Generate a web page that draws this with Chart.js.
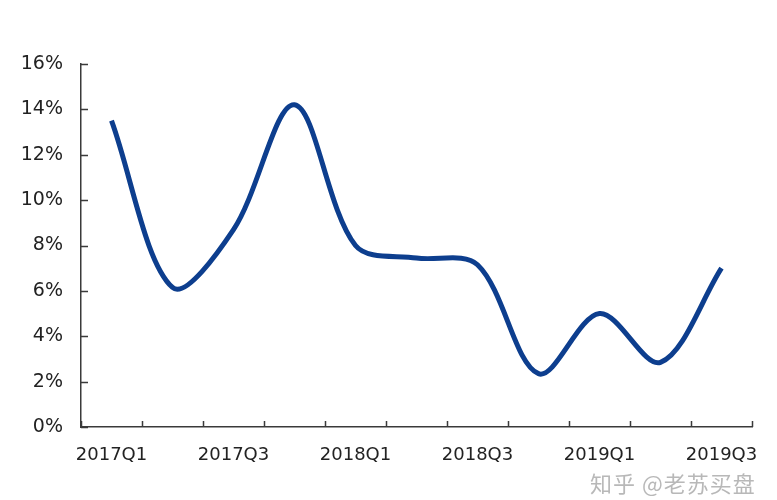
<!DOCTYPE html>
<html>
<head>
<meta charset="utf-8">
<script src="https://cdn.jsdelivr.net/npm/chart.js@4"></script>
<style>
  html, body { margin:0; padding:0; background:#fff; }
  #wrap { position:relative; width:777px; height:500px; }
  #mark {
    position:absolute; left:590px; top:466px;
    font-family:"Noto Sans CJK SC", sans-serif; font-size:22px;
    color:rgba(160,160,160,.75); letter-spacing:1px; white-space:nowrap;
  }
</style>
</head>
<body>
<div id="wrap">
  <canvas id="c" width="777" height="500"></canvas>
  <div id="mark">知乎 @老苏买盘</div>
</div>
<script>
const quarters = ["2017Q1","2017Q2","2017Q3","2017Q4","2018Q1","2018Q2","2018Q3","2018Q4","2019Q1","2019Q2","2019Q3"];
const growth = [13.5, 6.15, 8.7, 14.2, 8.0, 7.45, 7.15, 2.35, 5.0, 2.85, 7.0];
const yTicks = [0, 2, 4, 6, 8, 10, 12, 14, 16];

const TEXT = "#222";
const AXIS = "#3a3a3a";
const FAMILY = "'DejaVu Sans', Verdana, sans-serif";

// inward tick marks like the original
const innerTicks = {
  id:"innerTicks",
  afterDraw(chart){
    const {ctx, scales:{x, y}} = chart;
    ctx.save();
    ctx.strokeStyle = AXIS;
    ctx.lineWidth = 1.5;
    ctx.beginPath();
    for (let i = 0; i <= quarters.length; i++) {
      const px = Math.round(x.getPixelForValue(i - 0.5)) + 0.5;
      ctx.moveTo(px, y.bottom);
      ctx.lineTo(px, y.bottom - 6);
    }
    y.ticks.forEach(t => {
      const py = Math.round(y.getPixelForValue(t.value)) + 0.5;
      ctx.moveTo(x.left, py);
      ctx.lineTo(x.left + 7, py);
    });
    ctx.stroke();
    ctx.restore();
  }
};

new Chart(document.getElementById("c"), {
  type:"line",
  data:{
    labels: quarters,
    datasets:[{
      data: growth,
      borderColor:"#0d3e8e",
      borderWidth:5,
      pointRadius:0,
      tension:0.33,
      fill:false
    }]
  },
  options:{
    responsive:false,
    animation:false,
    layout:{ padding:{ top:64, right:25, left:0, bottom:0 } },
    plugins:{ legend:{ display:false }, tooltip:{ enabled:false } },
    scales:{
      x:{
        offset:true,
        grid:{ display:false },
        border:{ display:true, color:AXIS, width:1.5 },
        ticks:{
          color:TEXT, font:{ family:FAMILY, size:18 }, autoSkip:false, maxRotation:0, padding:10,
          callback:(v, i) => i % 2 === 0 ? quarters[i] : ""
        },
        afterFit:(s) => { s.height = 73; }
      },
      y:{
        min:0, max:16,
        grid:{ display:false },
        border:{ display:true, color:AXIS, width:1.5 },
        afterBuildTicks:(s) => { s.ticks = yTicks.map(v => ({ value:v })); },
        ticks:{ color:TEXT, font:{ family:FAMILY, size:19 }, padding:10, callback:(v) => v + "%" },
        afterFit:(s) => { s.width = 81; }
      }
    }
  },
  plugins:[innerTicks]
});
</script>
</body>
</html>
